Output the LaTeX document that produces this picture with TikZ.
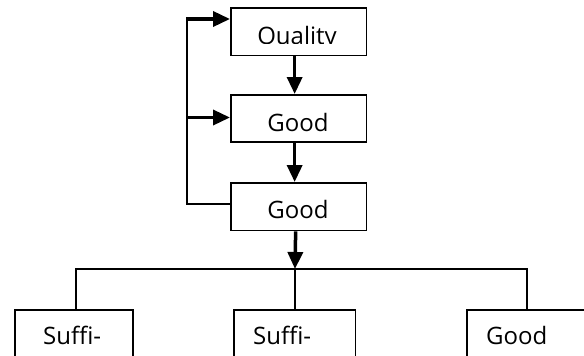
\documentclass[tikz,border=0pt]{standalone}
\usepackage{fontspec}
\setmainfont{Open Sans}
\usetikzlibrary{arrows.meta}
\tikzset{
  box/.style={draw, line width=1.8pt, inner sep=0pt, anchor=north west},
  txt/.style={inner sep=0pt, font=\fontsize{24}{28}\selectfont},
  arr/.style={line width=3.5pt, -{Triangle[length=17pt,width=15pt]}},
  conn/.style={line width=1.8pt},
}
\begin{document}
\begin{tikzpicture}[x=1pt,y=-1pt]
\useasboundingbox (0,0) rectangle (584,356);
\clip (0,0) rectangle (584,356);
% boxes
\node[box, minimum width=135.5pt, minimum height=47.5pt] (q) at (230,7) {};
\node[box, minimum width=135.5pt, minimum height=47pt] (g1) at (230,94) {};
\node[box, minimum width=135.5pt, minimum height=47.5pt] (g2) at (230,182) {};
\node[box, minimum width=118pt, minimum height=46.5pt] (s1) at (14,309) {};
\node[box, minimum width=121.5pt, minimum height=46.5pt] (s2) at (233,309) {};
\node[box, minimum width=117.5pt, minimum height=46.5pt] (s3) at (466,309) {};
% texts
\begin{scope}
\clip (230,7) rectangle (366,43.5);
\node[txt, anchor=base] (tq) at (297,44) {Quality};
\end{scope}
\node[txt, anchor=base] (tg1) at (298,131) {Good};
\node[txt, anchor=base] (tg2) at (298,218) {Good};
\node[txt, anchor=base west] (ts1) at (43,344.5) {Suffi-};
\node[txt, anchor=base west] (ts2) at (253,344.5) {Suffi-};
\node[txt, anchor=base west] (ts3) at (486,344.5) {Good};
% coordinates
\coordinate (c1) at (187,19);
\coordinate (c2) at (187,117.5);
\coordinate (c3) at (187,204);
\coordinate (bus) at (295,269);
\coordinate (b1) at (76,269);
\coordinate (b3) at (527,269);
% connectors
\draw[arr] ([xshift=-4pt]q.south) -- ([xshift=-4pt]g1.north);
\draw[arr] ([xshift=-4pt]g1.south) -- ([xshift=-4pt]g2.north);
\draw[arr] ([xshift=-3pt]g2.south) -- (bus);
\draw[conn] (g2.west |- c3) -- (c3) -- ([yshift=-0.9pt]c1);
\draw[arr] ([xshift=-0.9pt]c1) -- (q.west |- c1);
\draw[arr] ([xshift=-0.9pt]c2) -- (g1.west |- c2);
\draw[conn] (s1.north -| b1) -- (b1) -- (b3) -- (s3.north -| b3);
\draw[conn] (bus) -- (s2.north -| bus);
\end{tikzpicture}
\end{document}
